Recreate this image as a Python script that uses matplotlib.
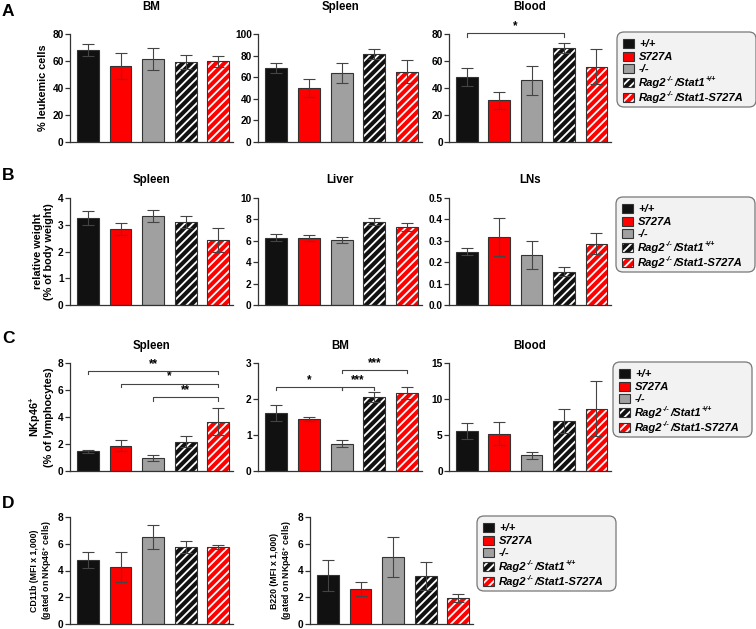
import re
import matplotlib
matplotlib.use("Agg")
import matplotlib.pyplot as plt
from matplotlib.patches import Rectangle, FancyBboxPatch

plt.rcParams['font.family'] = ['Liberation Sans', 'DejaVu Sans']
plt.rcParams['font.weight'] = 'bold'
plt.rcParams['mathtext.fontset'] = 'custom'
plt.rcParams['mathtext.rm'] = 'Liberation Sans:bold'
plt.rcParams['mathtext.it'] = 'Liberation Sans:bold'
plt.rcParams['mathtext.bf'] = 'Liberation Sans:bold'
plt.rcParams['hatch.linewidth'] = 1.3

# ---------------- data ----------------
groups = ['+/+', 'S727A', '-/-', 'Rag2^{-/-}/Stat1^{+/+}', 'Rag2^{-/-}/Stat1-S727A']

a_bm_mean = [68.4, 56.5, 61.5, 59.3, 59.8]
a_bm_err = [4.4, 9.5, 8.2, 5.1, 3.9]
a_spleen_mean = [68.3, 49.8, 63.7, 81.5, 65.2]
a_spleen_err = [4.6, 8.4, 9.5, 4.3, 10.5]
a_blood_mean = [48.0, 30.8, 45.6, 69.5, 55.9]
a_blood_err = [6.7, 6.1, 10.6, 3.7, 13.3]

b_spleen_mean = [3.25, 2.85, 3.33, 3.09, 2.42]
b_spleen_err = [0.26, 0.23, 0.21, 0.22, 0.45]
b_liver_mean = [6.29, 6.23, 6.07, 7.79, 7.29]
b_liver_err = [0.31, 0.28, 0.30, 0.34, 0.37]
b_lns_mean = [0.249, 0.319, 0.234, 0.156, 0.287]
b_lns_err = [0.017, 0.088, 0.064, 0.020, 0.049]

c_spleen_mean = [1.46, 1.88, 0.96, 2.17, 3.65]
c_spleen_err = [0.10, 0.39, 0.20, 0.40, 0.99]
c_bm_mean = [1.61, 1.44, 0.76, 2.05, 2.16]
c_bm_err = [0.22, 0.05, 0.09, 0.14, 0.17]
c_blood_mean = [5.5, 5.2, 2.2, 7.0, 8.66]
c_blood_err = [1.1, 1.65, 0.48, 1.66, 3.8]

d_cd11b_mean = [4.79, 4.26, 6.51, 5.74, 5.74]
d_cd11b_err = [0.60, 1.13, 0.87, 0.44, 0.15]
d_b220_mean = [3.64, 2.62, 5.01, 3.57, 1.95]
d_b220_err = [1.15, 0.52, 1.50, 1.04, 0.27]

faces = ['#111111', '#ff0000', '#a0a0a0', '#111111', '#ff0000']
hatched = [False, False, False, True, True]

W, H = 756, 629
fig = plt.figure(figsize=(W / 100, H / 100), dpi=100)
renderer = fig.canvas.get_renderer()
PX = fig.dpi_scale_trans  # inches

def add_ax(left, right, top, bottom):
    return fig.add_axes([left / W, 1 - bottom / H, (right - left) / W, (bottom - top) / H])

DARK = '#333333'
TICK_FS = 7.3
TITLE_FS = 8.3

def draw_panel(ax, means, errs, ymax, step, title=None, tpad=12, ylabel=None, ylfs=7.8, fmt=None):
    x = list(range(len(means)))
    for i in x:
        if hatched[i]:
            ax.bar(i, means[i], width=0.67, color=faces[i], edgecolor='white', hatch='////', lw=0, zorder=2)
            ax.bar(i, means[i], width=0.67, fill=False, edgecolor=DARK, lw=0.8, zorder=2.5)
        else:
            ax.bar(i, means[i], width=0.67, color=faces[i], edgecolor=DARK, lw=0.8, zorder=2)
    ax.errorbar(x, means, yerr=errs, fmt='none', ecolor='#444444', elinewidth=0.8,
                capsize=4.5, capthick=0.8, zorder=3)
    ax.set_xlim(-0.55, 4.45)
    ax.set_ylim(0, ymax)
    ticks = [round(k * step, 4) for k in range(int(round(ymax / step)) + 1)]
    ax.set_yticks(ticks)
    if fmt:
        ax.set_yticklabels([fmt.format(t) for t in ticks])
    ax.set_xticks([])
    for s in ['top', 'right']:
        ax.spines[s].set_visible(False)
    for s in ['left', 'bottom']:
        ax.spines[s].set_color(DARK)
        ax.spines[s].set_linewidth(0.9)
    ax.tick_params(axis='y', direction='out', length=3.5, width=0.9, color=DARK,
                   labelsize=TICK_FS, pad=1)
    for lab in ax.get_yticklabels():
        lab.set_fontweight('bold')
    if title:
        ax.set_title(title, fontsize=TITLE_FS, fontweight='bold', pad=tpad)
    if ylabel:
        ax.set_ylabel(ylabel, fontsize=ylfs, fontweight='bold', labelpad=3, linespacing=1.15)

def bracket(ax, x1, x2, y, tick, label, ly=None):
    ax.plot([x1, x1, x2, x2], [y - tick, y, y, y - tick], color='#444444', lw=0.8,
            clip_on=False, zorder=4)
    ax.text((x1 + x2) / 2, y + (ly if ly is not None else tick * 0.3), label, ha='center',
            va='bottom', fontsize=8.3, fontweight='bold', clip_on=False)

def rich_text(x_px, base_px, label, size):
    parts = re.split(r'\^\{([^}]*)\}', label)
    x = x_px
    for k, seg in enumerate(parts):
        if not seg:
            continue
        sup = (k % 2 == 1)
        fs = size * 0.64 if sup else size
        yb = base_px - (size * 1.389 * 0.40 if sup else 0)
        t = fig.text(x / 100, (H - yb) / 100, seg, transform=PX, fontsize=fs,
                     fontweight='bold', fontstyle='italic', ha='left', va='baseline')
        bb = t.get_window_extent(renderer=renderer)
        x += bb.width + 0.4

LEG_ROWS = [11, 24, 36, 50, 65]

def legend(x0, y0, w=139, h=75):
    box = FancyBboxPatch(((x0) / 100, (H - y0 - h) / 100), w / 100, h / 100,
                         boxstyle='round,pad=0,rounding_size=0.07', transform=PX,
                         facecolor='#f2f2f2', edgecolor='#777777', lw=0.9)
    fig.add_artist(box)
    size = 8.1
    for i, lab in enumerate(groups):
        cy = y0 + LEG_ROWS[i]
        pw, ph = 11, 9
        rx, ry = (x0 + 6) / 100, (H - cy - ph / 2) / 100
        if hatched[i]:
            fig.add_artist(Rectangle((rx, ry), pw / 100, ph / 100, transform=PX,
                                     facecolor=faces[i], edgecolor='white', hatch='////', lw=0))
            fig.add_artist(Rectangle((rx, ry), pw / 100, ph / 100, transform=PX,
                                     facecolor='none', edgecolor=DARK, lw=0.8))
        else:
            fig.add_artist(Rectangle((rx, ry), pw / 100, ph / 100, transform=PX,
                                     facecolor=faces[i], edgecolor=DARK, lw=0.8))
        rich_text(x0 + 22, cy + 4.0, lab, size)

# Row A
axA1 = add_ax(70, 233, 34, 142)
draw_panel(axA1, a_bm_mean, a_bm_err, 80, 20, 'BM', tpad=17, ylabel='% leukemic cells')
axA2 = add_ax(258, 422, 34, 142)
draw_panel(axA2, a_spleen_mean, a_spleen_err, 100, 20, 'Spleen', tpad=17)
axA3 = add_ax(449, 611, 34, 142)
draw_panel(axA3, a_blood_mean, a_blood_err, 80, 20, 'Blood', tpad=17)
bracket(axA3, 0, 3, 80.5, 2.5, '*', ly=0.5)
legend(617, 32)

# Row B
axB1 = add_ax(70, 233, 198, 305)
draw_panel(axB1, b_spleen_mean, b_spleen_err, 4, 1, 'Spleen', tpad=11,
           ylabel='relative weight\n(% of body weight)')
axB2 = add_ax(258, 422, 198, 305)
draw_panel(axB2, b_liver_mean, b_liver_err, 10, 2, 'Liver', tpad=11)
axB3 = add_ax(449, 611, 198, 305)
draw_panel(axB3, b_lns_mean, b_lns_err, 0.5, 0.1, 'LNs', tpad=11, fmt='{:.1f}')
legend(616, 197)

# Row C
axC1 = add_ax(70, 233, 363, 471)
draw_panel(axC1, c_spleen_mean, c_spleen_err, 8, 2, 'Spleen', tpad=10,
           ylabel='NKp46$^{+}$\n(% of lymphocytes)')
bracket(axC1, 0, 4, 7.43, 0.25, '**')
bracket(axC1, 1, 4, 6.47, 0.25, '*')
bracket(axC1, 2, 4, 5.46, 0.25, '**')
axC2 = add_ax(258, 422, 363, 471)
draw_panel(axC2, c_bm_mean, c_bm_err, 3, 1, 'BM', tpad=10)
bracket(axC2, 0, 2, 2.33, 0.09, '*')
bracket(axC2, 2, 3, 2.33, 0.09, '***')
bracket(axC2, 2, 4, 2.80, 0.09, '***')
axC3 = add_ax(449, 611, 363, 471)
draw_panel(axC3, c_blood_mean, c_blood_err, 15, 5, 'Blood', tpad=10)
legend(613, 362)

# Row D
axD1 = add_ax(70, 233, 517, 624)
draw_panel(axD1, d_cd11b_mean, d_cd11b_err, 8, 2,
           ylabel='CD11b (MFI x 1,000)\n(gated on NKp46$^{+}$ cells)', ylfs=6.3)
axD2 = add_ax(310, 473, 517, 624)
draw_panel(axD2, d_b220_mean, d_b220_err, 8, 2,
           ylabel='B220 (MFI x 1,000)\n(gated on NKp46$^{+}$ cells)', ylfs=6.3)
legend(477, 516)

for letter, y in [('A', 4), ('B', 168), ('C', 331), ('D', 496)]:
    fig.text(2 / W, 1 - y / H, letter, fontsize=12.5, fontweight='bold', va='top', ha='left')

fig.savefig('out.png', dpi=100)
